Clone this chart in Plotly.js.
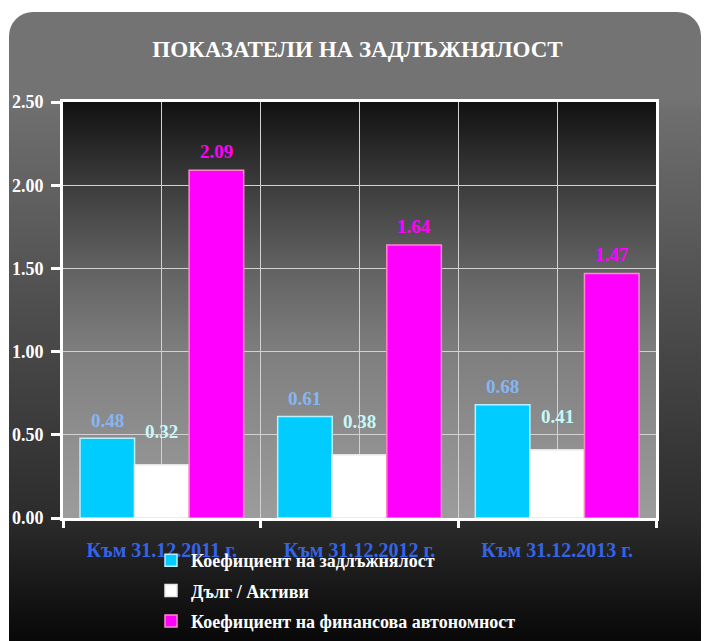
<!DOCTYPE html>
<html>
<head>
<meta charset="utf-8">
<script src="https://cdn.plot.ly/plotly-3.0.1.min.js"></script>
<style>
  html, body { margin: 0; padding: 0; background: #ffffff; }
  #wrap { position: relative; width: 705px; height: 641px; overflow: hidden; background: #ffffff; }
  #card {
    position: absolute; left: 9px; top: 12px; width: 692px; height: 660px;
    border-radius: 24px;
    background: linear-gradient(to bottom, #737373 0px, #737373 88px, #6e6e6e 100px, #2c2c2c 505px, #080808 629px);
  }
  #plotbg {
    position: absolute; left: 63px; top: 102px; width: 593px; height: 416px;
    background: linear-gradient(to bottom, #111111 0%, #3c3c3c 20%, #626262 40%, #7e7e7e 60%, #8e8e8e 80%, #9c9c9c 100%);
  }
  #chart { position: absolute; left: 0; top: 0; width: 705px; height: 641px; }
</style>
</head>
<body>
<div id="wrap">
  <div id="card"></div>
  <div id="plotbg"></div>
  <div id="chart"></div>
</div>
<script>
// ---- data ----
const categories = ["Към 31.12.2011 г.", "Към 31.12.2012 г.", "Към 31.12.2013 г."];
const seriesNames = ["Коефициент на задлъжнялост", "Дълг / Активи", "Коефициент на финансова автономност"];
const debtRatio = [0.48, 0.61, 0.68];
const debtToAssets = [0.32, 0.38, 0.41];
const autonomyRatio = [2.09, 1.64, 1.47];
const yTickVals = [0, 0.5, 1, 1.5, 2, 2.5];
const chartTitle = "ПОКАЗАТЕЛИ НА ЗАДЛЪЖНЯЛОСТ";

// ---- styles ----
const serif = "Liberation Serif, Times New Roman, serif";
const barColors = ["#00ccff", "#ffffff", "#ff00ff"];
const barLines = ["#b8f0ff", "#e6e6e6", "#ff88cc"];
const labelColors = ["#86b6f2", "#c8f8f8", "#ff00ff"];
const labelShift = [18, 33, 19];
const bargap = 0.172;

const seriesValues = [debtRatio, debtToAssets, autonomyRatio];
const xIdx = categories.map((_, i) => i);

const traces = seriesValues.map((vals, s) => ({
  type: "bar",
  name: seriesNames[s],
  x: xIdx,
  y: vals,
  marker: { color: barColors[s], line: { color: barLines[s], width: 1.5 } },
  legendgroup: "g" + s,
  hoverinfo: "y+name"
}));

const w = (1 - bargap) / 3;
const annotations = [];
seriesValues.forEach((vals, s) => {
  vals.forEach((v, j) => {
    annotations.push({
      x: j + (s - 1) * w, y: v, xref: "x", yref: "y",
      text: v.toFixed(2), showarrow: false, yanchor: "middle", yshift: labelShift[s],
      font: { family: serif, size: 19, color: labelColors[s], weight: "bold" }
    });
  });
});

const gridColor = "#d2d2d2";
const layout = {
  width: 705, height: 641,
  margin: { l: 63, r: 49, t: 102, b: 123, pad: 0, autoexpand: false },
  paper_bgcolor: "rgba(0,0,0,0)",
  plot_bgcolor: "rgba(0,0,0,0)",
  barmode: "group",
  bargap: bargap,
  bargroupgap: 0,
  title: {
    text: "<b>" + chartTitle + "</b>",
    font: { family: serif, size: 23, color: "#ffffff" },
    x: 0.4966, xanchor: "center", xref: "paper",
    y: 1 - 49 / 641, yanchor: "middle", yref: "container"
  },
  xaxis: {
    range: [-0.5, 2.5],
    tickmode: "array", tickvals: xIdx, ticktext: categories.map(c => "<b>" + c + "</b>"),
    ticks: "", showgrid: true, gridcolor: gridColor, gridwidth: 1,
    showline: true, linecolor: "#ffffff", linewidth: 3, mirror: true,
    zeroline: false,
    tickfont: { family: serif, size: 20, color: "#3464e8" },
    ticklabelstandoff: 12,
    minor: { tick0: -0.5, dtick: 1, ticks: "outside", ticklen: 7, tickwidth: 3, tickcolor: "#ffffff",
             showgrid: true, gridcolor: gridColor, gridwidth: 1 },
    fixedrange: true
  },
  yaxis: {
    range: [0, 2.5],
    tickmode: "array", tickvals: yTickVals, ticktext: yTickVals.map(v => "<b>" + v.toFixed(2) + "</b>"),
    ticks: "outside", ticklen: 9, tickwidth: 3, tickcolor: "#ffffff",
    showgrid: true, gridcolor: gridColor, gridwidth: 1,
    showline: true, linecolor: "#ffffff", linewidth: 3, mirror: true,
    zeroline: false,
    tickfont: { family: serif, size: 18, color: "#ffffff" },
    ticklabelstandoff: 4,
    fixedrange: true
  },
  showlegend: true,
  legend: {
    orientation: "v",
    xref: "container", yref: "container",
    x: 151 / 705, xanchor: "left",
    y: 1 - 542 / 641, yanchor: "top",
    bgcolor: "rgba(0,0,0,0)",
    font: { family: serif, size: 18, color: "#ffffff", weight: "bold" },
    traceorder: "grouped",
    tracegroupgap: 4,
    itemclick: false, itemdoubleclick: false
  },
  annotations: annotations
};

Plotly.newPlot("chart", traces, layout, { displayModeBar: false, staticPlot: true });
</script>
</body>
</html>
